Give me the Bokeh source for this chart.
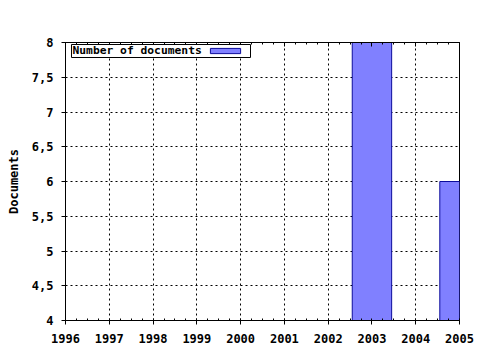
from bokeh.plotting import figure
from bokeh.models import (Range1d, SingleIntervalTicker, LinearAxis, CustomJSTickFormatter,
                          BoxAnnotation, Label)
from bokeh.embed import file_html
from bokeh.resources import INLINE

years = [2003, 2005]
documents = [8, 6]
series_name = "Number of documents"
y_title = "Documents"

FONT = "DejaVu Sans Mono"

p = figure(width=480, height=350, output_backend="svg", toolbar_location=None,
           x_range=Range1d(1996, 2005), y_range=Range1d(4, 8),
           min_border_left=65, min_border_right=21, min_border_top=42, min_border_bottom=30)
p.xaxis.visible = False
p.yaxis.visible = False

p.vbar(x=years, top=documents, bottom=0, width=0.9,
       fill_color="#8080ff", line_color="#0c0c9c", line_width=1)

xa = LinearAxis(ticker=SingleIntervalTicker(interval=1, num_minor_ticks=4))
ya = LinearAxis(ticker=SingleIntervalTicker(interval=0.5, num_minor_ticks=2),
                formatter=CustomJSTickFormatter(code="return tick.toString().replace('.', ',');"),
                axis_label=y_title)
for ax in (xa, ya):
    ax.major_label_text_font = FONT
    ax.major_label_text_font_style = "bold"
    ax.major_label_text_font_size = "12px"
    ax.major_label_text_color = "black"
    ax.axis_line_color = "black"
    ax.major_tick_line_color = "black"
    ax.minor_tick_line_color = "black"
    ax.major_tick_out = 4
    ax.major_tick_in = 0
    ax.minor_tick_out = 0
    ax.minor_tick_in = 2
    ax.axis_label_text_font = FONT
    ax.axis_label_text_font_style = "bold"
    ax.axis_label_text_font_size = "12px"
    ax.axis_label_text_color = "black"
ya.minor_tick_line_color = None
ya.major_label_standoff = 8
ya.axis_label_standoff = 8
xa.major_label_standoff = 9
p.add_layout(xa, "below")
p.add_layout(ya, "left")

ta = LinearAxis(ticker=SingleIntervalTicker(interval=1, num_minor_ticks=4),
                formatter=CustomJSTickFormatter(code="return '';"))
ta.major_tick_in = 4
ta.major_tick_out = 0
ta.minor_tick_in = 2
ta.minor_tick_out = 0
ta.axis_line_color = "black"
ta.major_tick_line_color = "black"
ta.minor_tick_line_color = "black"
p.add_layout(ta, "above")

p.xgrid.ticker = SingleIntervalTicker(interval=1)
p.ygrid.ticker = SingleIntervalTicker(interval=0.5)
for g in (p.xgrid, p.ygrid):
    g.grid_line_color = "black"
    g.grid_line_dash = "2 3"
    g.grid_line_width = 1

p.outline_line_color = "black"
p.outline_line_alpha = 1
p.background_fill_color = "white"
p.border_fill_color = "white"

# manual legend (label left, swatch right)
p.add_layout(BoxAnnotation(left=1996.137, right=2000.226, top=7.971, bottom=7.784,
                           fill_color="white", fill_alpha=1, line_color="black",
                           line_alpha=1, line_width=1))
p.add_layout(BoxAnnotation(left=1999.31, right=2000.0, top=7.915, bottom=7.84,
                           fill_color="#8080ff", fill_alpha=1, line_color="#0c0c9c",
                           line_alpha=1, line_width=1))
p.add_layout(Label(x=1996.16, y=7.878, text=series_name, text_font=FONT,
                   text_font_style="bold", text_font_size="11.3px", text_baseline="middle",
                   text_color="black"))

open("out.html", "w").write(file_html(p, INLINE))
